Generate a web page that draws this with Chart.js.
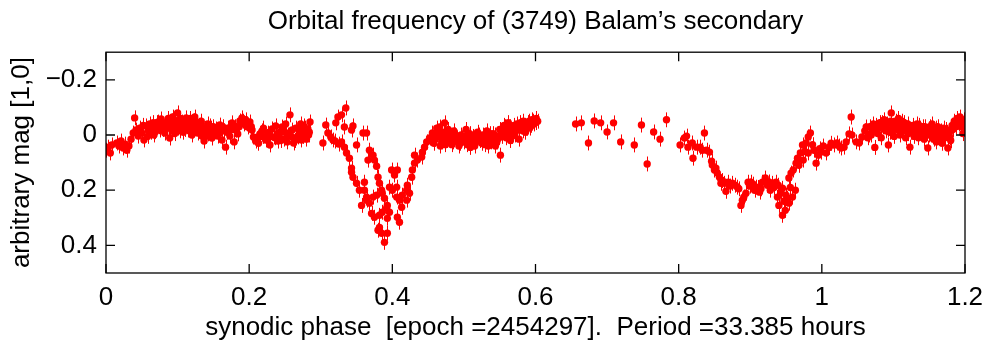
<!DOCTYPE html>
<html>
<head>
<meta charset="utf-8">
<script src="https://cdn.jsdelivr.net/npm/chart.js@4.4.1/dist/chart.umd.min.js"></script>
<style>
  html, body { margin: 0; padding: 0; background: #fff; }
  #wrap { width: 987px; height: 345px; position: relative; }
</style>
</head>
<body>
<div id="wrap"><canvas id="chartCanvas"></canvas></div>
<script>
// [phase, mag] pairs, split by region
const flatStart = [
  [0.000,0.055],[0.003,0.044],[0.006,0.065],[0.008,0.036],[0.015,0.029],[0.018,0.040],[0.021,0.022],[0.024,0.047],
  [0.027,0.033],[0.029,0.055],[0.032,0.040],[0.035,0.015],[0.038,-0.007],[0.040,-0.062],[0.042,-0.018],[0.045,0.004],
  [0.047,-0.025],[0.050,-0.007],[0.053,0.018],[0.056,-0.033],[0.059,-0.015],[0.061,-0.040],[0.064,-0.022],[0.067,0.000],
  [0.070,-0.029],[0.073,-0.047],[0.075,-0.018],[0.077,-0.058],[0.080,-0.033],[0.082,-0.007],[0.085,-0.044],[0.088,-0.025],
  [0.089,0.011],[0.092,-0.051],[0.095,-0.022],[0.098,-0.036],[0.100,-0.080],[0.103,-0.015],[0.106,-0.047],[0.109,-0.029],
  [0.112,-0.062],[0.114,-0.018],[0.117,-0.040],[0.120,0.000],[0.123,-0.051],[0.126,-0.025],[0.128,-0.007],[0.131,-0.029],
  [0.134,0.004],[0.137,0.022],[0.140,-0.018],[0.142,-0.004],[0.145,-0.033],[0.148,0.011],[0.151,-0.011],[0.153,-0.022],
  [0.156,0.004],[0.159,-0.036],[0.162,0.018],[0.165,-0.015],[0.167,0.044],[0.170,-0.025],[0.173,0.004],[0.176,-0.044],
  [0.179,0.025],[0.181,-0.018],[0.184,-0.004],[0.187,-0.051],[0.190,-0.062],[0.193,-0.040],[0.195,-0.055],[0.198,-0.029],
  [0.201,-0.047],[0.204,-0.018],[0.206,0.007],[0.209,0.022],[0.212,0.011],[0.215,-0.004],[0.218,-0.015],[0.220,-0.025],
  [0.223,0.018],[0.226,-0.007],[0.229,0.036],[0.232,-0.022],[0.234,0.007],[0.237,-0.033],[0.240,0.022],[0.243,-0.011],
  [0.246,-0.029],[0.248,0.015],[0.251,-0.040],[0.254,0.000],[0.257,-0.073],[0.260,-0.018],[0.262,0.029],[0.265,-0.025],
  [0.268,0.007],[0.271,-0.015],[0.273,0.018],[0.276,-0.033],[0.279,-0.007],[0.282,-0.022],[0.285,-0.047],
  [0.063,-0.010],[0.071,-0.045],[0.079,-0.020],[0.086,-0.050],[0.094,-0.035],[0.102,-0.055],[0.110,-0.020],[0.118,-0.060],
  [0.125,-0.040],[0.133,-0.050],[0.096,-0.005],[0.108,-0.010],[0.121,-0.015],[0.142,-0.040],[0.150,-0.030],[0.213,0.030],
  [0.225,0.005],[0.244,0.020],[0.253,0.025],[0.266,0.010],[0.272,-0.040],[0.280,0.015],[0.283,0.000],
  [0.052,-0.035],[0.058,0.005],[0.066,-0.045],[0.069,-0.012],[0.074,-0.030],[0.078,-0.040],[0.083,-0.020],[0.087,-0.060],
  [0.091,-0.030],[0.093,-0.065],[0.097,-0.045],[0.101,-0.025],[0.104,-0.060],[0.107,-0.035],[0.111,-0.045],[0.113,-0.030],
  [0.116,-0.020],[0.119,-0.045],[0.122,-0.030],[0.124,-0.065],[0.127,-0.045],[0.130,-0.015],[0.132,-0.035],[0.136,-0.025],
  [0.139,0.005],[0.144,-0.015],[0.147,-0.025],[0.155,-0.015],[0.158,-0.005],[0.163,-0.030],[0.169,-0.010],[0.175,-0.020],
  [0.180,-0.030],[0.186,-0.030],[0.192,-0.050],[0.197,-0.040],[0.203,-0.030],[0.219,0.005],[0.228,0.000],[0.236,0.010],
  [0.242,0.000],[0.250,-0.010],[0.259,0.005],[0.264,0.020],[0.270,-0.005],[0.275,0.005],[0.278,-0.025],[0.284,-0.010]
];

const primaryDip = [
  [0.303,0.029],[0.307,-0.036],[0.310,-0.007],[0.314,0.007],[0.317,0.018],[0.321,-0.044],[0.324,-0.065],[0.329,-0.073],
  [0.335,-0.098],[0.333,-0.029],[0.343,-0.018],[0.345,-0.033],[0.320,0.022],[0.325,0.033],[0.329,0.025],[0.333,0.044],
  [0.336,0.065],[0.340,0.084],[0.350,0.036],[0.359,-0.007],[0.364,-0.007],[0.368,0.055],[0.373,0.073],[0.375,0.091],
  [0.366,0.091],[0.378,0.113],[0.343,0.120],[0.343,0.135],[0.345,0.153],[0.350,0.175],[0.354,0.200],[0.361,0.171],
  [0.361,0.200],[0.357,0.255],[0.364,0.225],[0.364,0.236],[0.368,0.247],[0.373,0.225],[0.378,0.218],[0.371,0.284],
  [0.375,0.298],[0.382,0.291],[0.386,0.280],[0.380,0.153],[0.382,0.175],[0.385,0.200],[0.386,0.211],[0.389,0.229],
  [0.393,0.255],[0.392,0.265],[0.396,0.280],[0.393,0.302],[0.382,0.335],[0.380,0.345],[0.385,0.356],[0.389,0.389],
  [0.393,0.356],[0.399,0.127],[0.407,0.127],[0.403,0.145],[0.396,0.189],[0.406,0.189],[0.400,0.200],[0.406,0.225],
  [0.410,0.236],[0.414,0.218],[0.413,0.262],[0.407,0.298],[0.410,0.316],[0.420,0.200],[0.421,0.182],[0.424,0.211],
  [0.420,0.236],[0.427,0.153],[0.428,0.127],[0.431,0.102],[0.431,0.073],[0.435,0.091],[0.441,0.080],[0.442,0.062],
  [0.445,0.044],[0.448,0.025],[0.452,0.011],[0.456,-0.007],[0.462,-0.025],[0.466,-0.029],[0.473,-0.044]
];

const egress = [
  [0.460,0.015],[0.465,0.005],[0.469,0.025],[0.472,-0.010],[0.476,0.020],[0.479,0.000],[0.483,0.035],[0.486,-0.015],
  [0.490,0.010],[0.493,0.040],[0.496,0.000],[0.500,0.025],[0.503,-0.020],[0.506,0.015],[0.509,0.045],[0.513,0.005],
  [0.516,0.030],[0.519,-0.010],[0.523,0.020],[0.526,0.000],[0.529,0.035],[0.532,-0.015],[0.535,0.010],[0.538,0.025],
  [0.541,-0.005],[0.544,0.040],[0.547,0.015],[0.550,-0.020],[0.551,0.073],[0.553,0.005],[0.556,-0.035],[0.559,0.010],
  [0.562,-0.045],[0.565,0.020],[0.568,-0.020],[0.571,0.000],[0.574,-0.040],[0.577,0.015],[0.580,-0.030],[0.583,-0.050],
  [0.586,-0.010],[0.589,-0.045],[0.592,-0.025],[0.595,-0.055],[0.598,-0.040],[0.601,-0.060],[0.603,-0.050],
  [0.458,0.030],[0.463,-0.010],[0.467,0.040],[0.471,0.010],[0.474,0.035],[0.478,-0.020],[0.481,0.015],[0.485,0.025],
  [0.488,0.000],[0.492,0.020],[0.495,0.030],[0.498,0.010],[0.502,0.005],[0.505,0.035],[0.508,-0.005],[0.511,0.025],
  [0.515,0.040],[0.518,0.015],[0.521,0.000],[0.525,0.030],[0.528,0.010],[0.531,0.020],[0.534,0.040],[0.537,-0.005],
  [0.540,0.015],[0.543,0.000],[0.546,0.025],[0.549,0.010],[0.555,-0.010],[0.558,-0.030],[0.561,-0.010],[0.564,-0.030],
  [0.567,0.005],[0.570,-0.035],[0.573,-0.015],[0.579,-0.045],[0.582,-0.015],[0.585,-0.035],[0.588,-0.025],[0.591,-0.050],
  [0.594,-0.035],[0.597,-0.050],[0.600,-0.045]
];

const sparse = [
  [0.656,-0.040],[0.664,-0.044],[0.674,0.029],[0.682,-0.051],[0.691,-0.044],[0.700,-0.011],[0.709,-0.044],
  [0.719,0.025],[0.738,0.036],[0.748,-0.036],[0.756,0.105],[0.765,-0.011],[0.774,0.015],[0.783,-0.055]
];

const secondaryDip = [
  [0.802,0.036],[0.808,0.011],[0.811,0.004],[0.813,0.044],[0.819,0.029],[0.820,0.084],[0.825,0.044],[0.830,0.044],
  [0.833,0.055],[0.836,-0.007],[0.839,0.055],[0.843,0.062],[0.847,0.109],[0.850,0.127],[0.854,0.138],[0.857,0.153],
  [0.859,0.175],[0.864,0.175],[0.866,0.204],[0.869,0.171],[0.875,0.175],[0.879,0.182],[0.882,0.189],[0.887,0.255],
  [0.889,0.236],[0.894,0.211],[0.897,0.171],[0.901,0.171],[0.906,0.200],[0.908,0.189],[0.913,0.207],[0.917,0.171],
  [0.921,0.156],[0.924,0.182],[0.928,0.200],[0.931,0.175],[0.936,0.171],[0.939,0.182],[0.938,0.225],[0.940,0.255],
  [0.945,0.193],[0.945,0.291],[0.949,0.273],[0.950,0.218],[0.952,0.229],[0.954,0.156],[0.957,0.138],[0.954,0.247],
  [0.959,0.225],[0.963,0.200],[0.960,0.127],[0.964,0.102],[0.966,0.084],[0.970,0.065],[0.973,0.036],[0.974,0.091],
  [0.978,0.029],[0.981,0.007],[0.984,-0.007],[0.981,0.065],[0.989,0.055],[0.992,0.102],[0.995,0.073],[0.999,0.062],
  [1.002,0.040],[1.006,0.065],[1.017,0.036],[1.021,0.029],[1.027,0.047],[1.031,0.044],[1.034,0.025],[1.038,-0.004],
  [1.041,-0.065],[1.042,0.000],[1.048,0.025],[1.052,0.029],[1.056,0.007],[1.062,-0.029],
  [0.846,0.095],[0.852,0.120],[0.861,0.165],[0.872,0.185],[0.884,0.195],[0.891,0.225],[0.899,0.185],[0.904,0.178],
  [0.911,0.190],[0.915,0.195],[0.926,0.170],[0.933,0.190],[0.943,0.210],[0.947,0.240],[0.956,0.190],[0.968,0.110],
  [0.976,0.060],[0.987,0.035],[0.997,0.050],[1.010,0.045],[1.013,0.030],[1.024,0.040]
];

const flatEnd = [
  [1.060,-0.015],[1.064,0.010],[1.067,-0.030],[1.069,0.000],[1.072,-0.040],[1.074,0.045],[1.076,-0.020],[1.078,-0.005],
  [1.081,-0.045],[1.083,0.010],[1.085,-0.030],[1.087,-0.055],[1.089,-0.015],[1.091,-0.040],[1.093,0.036],[1.095,-0.010],
  [1.097,-0.080],[1.099,-0.035],[1.101,0.005],[1.103,-0.050],[1.105,-0.020],[1.107,-0.060],[1.109,0.000],[1.111,-0.035],
  [1.113,-0.015],[1.115,-0.045],[1.117,0.010],[1.119,-0.025],[1.121,-0.005],[1.123,0.044],[1.125,-0.020],[1.127,-0.035],
  [1.129,0.005],[1.131,-0.015],[1.133,-0.040],[1.135,0.010],[1.137,-0.025],[1.139,-0.005],[1.141,-0.030],[1.143,0.015],
  [1.145,-0.010],[1.148,0.047],[1.150,0.000],[1.152,-0.020],[1.154,-0.040],[1.156,0.015],[1.158,-0.010],[1.160,0.025],
  [1.162,-0.030],[1.164,0.005],[1.166,-0.015],[1.168,0.030],[1.170,-0.025],[1.172,0.010],[1.174,-0.020],[1.176,0.047],
  [1.178,-0.005],[1.180,0.020],[1.182,-0.035],[1.185,-0.050],[1.187,-0.030],[1.189,-0.060],[1.191,-0.040],[1.193,-0.065],
  [1.195,-0.045],[1.197,-0.005],[1.199,-0.055],
  [1.066,0.000],[1.071,-0.020],[1.075,-0.035],[1.080,-0.025],[1.084,-0.045],[1.088,-0.030],[1.092,-0.020],[1.096,-0.050],
  [1.100,-0.020],[1.104,-0.035],[1.108,-0.025],[1.112,-0.050],[1.116,-0.030],[1.120,-0.040],[1.124,-0.010],[1.128,-0.025],
  [1.132,-0.005],[1.136,-0.035],[1.140,-0.015],[1.144,-0.030],[1.147,-0.005],[1.151,-0.030],[1.155,0.000],[1.159,-0.025],
  [1.163,-0.010],[1.167,0.010],[1.171,0.000],[1.175,-0.010],[1.179,0.010],[1.183,-0.020],[1.186,-0.040],[1.190,-0.050],
  [1.194,-0.030],[1.198,-0.040]
];

const X_TICKS = [0, 0.2, 0.4, 0.6, 0.8, 1, 1.2];
const Y_TICKS = [-0.2, 0, 0.2, 0.4];
const ERR = 0.027; // half length of the error bars, in mag
const RED = "#ff0000";
const FONT = "'Liberation Sans', Arial, Helvetica, sans-serif";
const FS = 26;

const points = [...flatStart, ...primaryDip, ...egress, ...sparse, ...secondaryDip, ...flatEnd]
  .map(([x, y]) => ({ x, y }));

function fmt(v) {
  const r = Math.round(v * 10) / 10;
  return r < 0 ? "\u2212" + Math.abs(r) : String(r);
}

// vertical error bars under the markers
const errorBars = {
  id: "errorBars",
  beforeDatasetsDraw(chart) {
    const { ctx, chartArea, scales } = chart;
    ctx.save();
    ctx.beginPath();
    ctx.rect(chartArea.left, chartArea.top, chartArea.width, chartArea.height);
    ctx.clip();
    ctx.strokeStyle = RED;
    ctx.lineWidth = 1;
    chart.data.datasets[0].data.forEach((p) => {
      const px = Math.round(scales.x.getPixelForValue(p.x)) + 0.5;
      ctx.beginPath();
      ctx.moveTo(px, scales.y.getPixelForValue(p.y - ERR));
      ctx.lineTo(px, scales.y.getPixelForValue(p.y + ERR));
      ctx.stroke();
    });
    ctx.restore();
  },
};

// matlab style box with inward ticks on all four sides
const boxFrame = {
  id: "boxFrame",
  afterDraw(chart) {
    const { ctx, chartArea: a, scales } = chart;
    const len = 9;
    ctx.save();
    ctx.strokeStyle = "#000";
    ctx.lineWidth = 1.3;
    ctx.beginPath();
    X_TICKS.forEach((v) => {
      const px = scales.x.getPixelForValue(v);
      ctx.moveTo(px, a.bottom); ctx.lineTo(px, a.bottom - len);
      ctx.moveTo(px, a.top); ctx.lineTo(px, a.top + len);
    });
    Y_TICKS.forEach((v) => {
      const py = scales.y.getPixelForValue(v);
      ctx.moveTo(a.left, py); ctx.lineTo(a.left + len, py);
      ctx.moveTo(a.right, py); ctx.lineTo(a.right - len, py);
    });
    ctx.stroke();
    ctx.strokeRect(a.left, a.top, a.right - a.left, a.bottom - a.top);
    ctx.restore();
  },
};

const chartContext = document.getElementById("chartCanvas");

let chart = new Chart(chartContext, {
  type: "scatter",
  data: {
    datasets: [
      {
        data: points,
        backgroundColor: RED,
        borderWidth: 0,
        pointRadius: 3.7,
        pointHoverRadius: 3.7,
      },
    ],
  },
  options: {
    responsive: true,
    maintainAspectRatio: false,
    animation: false,
    events: [],
    layout: { padding: { left: 0, right: 22, top: 0, bottom: 0 } },
    plugins: {
      legend: { display: false },
      tooltip: { enabled: false },
      title: {
        display: true,
        text: "Orbital frequency of (3749) Balam\u2019s secondary",
        color: "#000",
        fullSize: false,
        font: { family: FONT, size: FS, weight: "normal" },
        padding: { top: 6, bottom: 15 },
      },
    },
    scales: {
      x: {
        type: "linear",
        min: 0,
        max: 1.2,
        grid: { display: false, drawTicks: false },
        border: { display: false },
        afterBuildTicks: (s) => { s.ticks = X_TICKS.map((value) => ({ value })); },
        afterFit: (s) => { s.height = 72; s.paddingLeft = 0; s.paddingRight = 0; },
        ticks: {
          color: "#000",
          padding: 9,
          maxRotation: 0,
          font: { family: FONT, size: FS },
          callback: (v) => fmt(v),
        },
        title: {
          display: true,
          text: "synodic phase  [epoch =2454297].  Period =33.385 hours",
          color: "#000",
          font: { family: FONT, size: FS },
          padding: { top: 0, bottom: 2 },
        },
      },
      y: {
        type: "linear",
        reverse: true,
        min: -0.3,
        max: 0.5,
        grid: { display: false, drawTicks: false },
        border: { display: false },
        afterBuildTicks: (s) => { s.ticks = Y_TICKS.map((value) => ({ value })); },
        afterFit: (s) => { s.width = 106; s.paddingTop = 0; s.paddingBottom = 0; },
        ticks: {
          color: "#000",
          padding: 9,
          font: { family: FONT, size: FS },
          callback: (v) => fmt(v),
        },
        title: {
          display: true,
          text: "arbitrary mag [1,0]",
          color: "#000",
          font: { family: FONT, size: FS },
          padding: { top: 6, bottom: 0 },
        },
      },
    },
  },
  plugins: [errorBars, boxFrame],
});
</script>
</body>
</html>
